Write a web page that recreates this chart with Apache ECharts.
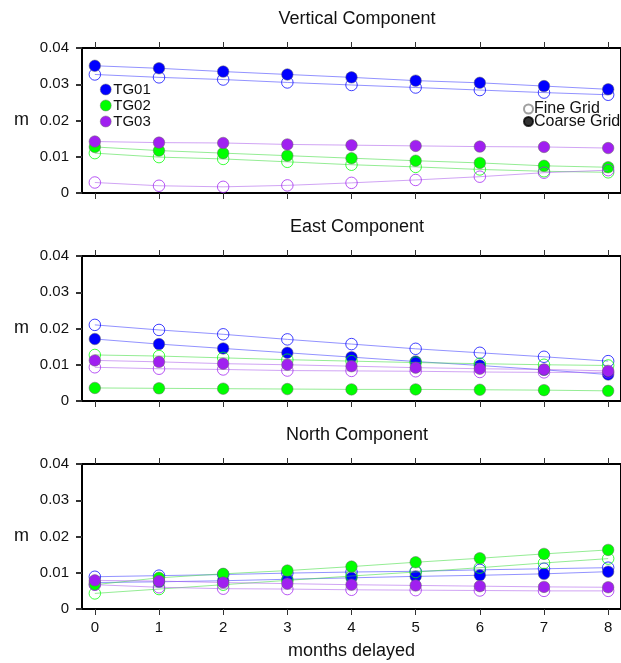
<!DOCTYPE html>
<html>
<head>
<meta charset="utf-8">
<script src="https://cdn.jsdelivr.net/npm/echarts@6/dist/echarts.min.js"></script>
<style>
  html, body { margin: 0; padding: 0; background: #fff; }
  #chart { width: 621px; height: 663px; }
</style>
</head>
<body>
<div id="chart"></div>
<script>
// Months of delay on the x axis
const months = [0, 1, 2, 3, 4, 5, 6, 7, 8];
const stations = ['TG01', 'TG02', 'TG03'];
const panelTitles = ['Vertical Component', 'East Component', 'North Component'];

// Vertical component (m)
const vertTG01Coarse = [0.0351, 0.0344, 0.0335, 0.0327, 0.0319, 0.0310, 0.0304, 0.0295, 0.0286];
const vertTG01Fine   = [0.0327, 0.0319, 0.0313, 0.0305, 0.0298, 0.0291, 0.0284, 0.0277, 0.0271];
const vertTG02Coarse = [0.0127, 0.0117, 0.0110, 0.0103, 0.0096, 0.0089, 0.0083, 0.0075, 0.0071];
const vertTG02Fine   = [0.0110, 0.0099, 0.0094, 0.0086, 0.0078, 0.0072, 0.0065, 0.0060, 0.0057];
const vertTG03Coarse = [0.0142, 0.0139, 0.0138, 0.0134, 0.0132, 0.0130, 0.0128, 0.0127, 0.0124];
const vertTG03Fine   = [0.0029, 0.0020, 0.0017, 0.0021, 0.0028, 0.0036, 0.0045, 0.0056, 0.0063];

// East component (m)
const eastTG01Coarse = [0.0171, 0.0157, 0.0145, 0.0133, 0.0121, 0.0109, 0.0098, 0.0086, 0.0073];
const eastTG01Fine   = [0.0210, 0.0196, 0.0184, 0.0170, 0.0157, 0.0144, 0.0133, 0.0122, 0.0110];
const eastTG02Coarse = [0.0036, 0.0035, 0.0034, 0.0033, 0.0032, 0.0032, 0.0031, 0.0030, 0.0028];
const eastTG02Fine   = [0.0127, 0.0124, 0.0119, 0.0114, 0.0110, 0.0106, 0.0103, 0.0100, 0.0098];
const eastTG03Coarse = [0.0112, 0.0108, 0.0103, 0.0100, 0.0096, 0.0092, 0.0089, 0.0087, 0.0083];
const eastTG03Fine   = [0.0093, 0.0089, 0.0087, 0.0084, 0.0083, 0.0082, 0.0080, 0.0079, 0.0079];

// North component (m)
const northTG01Coarse = [0.0073, 0.0075, 0.0078, 0.0082, 0.0086, 0.0090, 0.0093, 0.0097, 0.0103];
const northTG01Fine   = [0.0089, 0.0092, 0.0095, 0.0099, 0.0102, 0.0104, 0.0108, 0.0111, 0.0114];
const northTG02Coarse = [0.0067, 0.0086, 0.0097, 0.0106, 0.0117, 0.0129, 0.0140, 0.0152, 0.0163];
const northTG02Fine   = [0.0043, 0.0055, 0.0067, 0.0079, 0.0091, 0.0102, 0.0114, 0.0127, 0.0139];
const northTG03Coarse = [0.0079, 0.0077, 0.0073, 0.0070, 0.0067, 0.0065, 0.0063, 0.0061, 0.0060];
const northTG03Fine   = [0.0067, 0.0060, 0.0056, 0.0055, 0.0053, 0.0052, 0.0051, 0.0050, 0.0050];

const panels = [
  { fine: [vertTG01Fine, vertTG02Fine, vertTG03Fine],    coarse: [vertTG01Coarse, vertTG02Coarse, vertTG03Coarse] },
  { fine: [eastTG01Fine, eastTG02Fine, eastTG03Fine],    coarse: [eastTG01Coarse, eastTG02Coarse, eastTG03Coarse] },
  { fine: [northTG01Fine, northTG02Fine, northTG03Fine], coarse: [northTG01Coarse, northTG02Coarse, northTG03Coarse] }
];

const colors = ['#0000ff', '#00ff00', '#a020f0'];
const lineColors = ['rgba(100,100,255,0.7)', 'rgba(60,220,60,0.55)', 'rgba(170,90,235,0.55)'];
const FONT = 'Liberation Sans, Arial, Helvetica, sans-serif';

const gridTops = [48, 256, 464];
const gridHeight = 145;

const grids = [], xAxes = [], yAxes = [], series = [], titles = [];

gridTops.forEach((top, p) => {
  grids.push({
    left: 82, right: -2.5, top: top, height: gridHeight,
    show: true, borderColor: '#000', borderWidth: 2
  });
  titles.push({
    text: panelTitles[p], left: 352, top: top - 43, textAlign: 'center',
    textStyle: { fontFamily: FONT, fontSize: 18, fontWeight: 'normal', color: '#111' }
  });
  const isLast = p === gridTops.length - 1;
  // bottom x axis
  xAxes.push({
    type: 'value', gridIndex: p, position: 'bottom', min: -0.2, max: 8.2,
    axisLine: { show: false, onZero: false }, splitLine: { show: false },
    axisTick: { show: true, inside: false, length: 6, customValues: months, lineStyle: { color: '#333', width: 1 } },
    axisLabel: {
      show: isLast, customValues: months, margin: 11,
      fontFamily: FONT, fontSize: 15, color: '#111'
    },
    name: isLast ? 'months delayed' : '', nameLocation: 'middle', nameGap: 33,
    nameTextStyle: { fontFamily: FONT, fontSize: 18, color: '#111' }
  });
  // top x axis (ticks only)
  xAxes.push({
    type: 'value', gridIndex: p, position: 'top', min: -0.2, max: 8.2,
    axisLine: { show: false, onZero: false }, splitLine: { show: false },
    axisTick: { show: true, inside: false, length: 6, customValues: months, lineStyle: { color: '#333', width: 1 } },
    axisLabel: { show: false }
  });
  yAxes.push({
    type: 'value', gridIndex: p, min: 0, max: 0.04, interval: 0.01,
    axisLine: { show: false, onZero: false }, splitLine: { show: false },
    axisTick: { show: true, length: 6, lineStyle: { color: '#333', width: 2 } },
    axisLabel: {
      margin: 13, fontFamily: FONT, fontSize: 15, color: '#111',
      formatter: v => (v === 0 ? '0' : v.toFixed(2))
    },
    name: 'm', nameLocation: 'middle', nameGap: 53, nameRotate: 0,
    nameTextStyle: { fontFamily: FONT, fontSize: 18, color: '#111' }
  });

  stations.forEach((st, s) => {
    const fineData = months.map((m, i) => [m, panels[p].fine[s][i]]);
    const coarseData = months.map((m, i) => [m, panels[p].coarse[s][i]]);
    series.push({
      name: st + ' fine', type: 'line', xAxisIndex: p * 2, yAxisIndex: p,
      data: fineData, symbol: 'circle', symbolSize: 11.5, showSymbol: true,
      lineStyle: { color: lineColors[s], width: 1 },
      itemStyle: { color: 'rgba(255,255,255,0)', borderColor: colors[s], borderWidth: 1, opacity: 0.75 },
      emphasis: { disabled: true }, z: 2 + s * 2
    });
    series.push({
      name: st, type: 'line', xAxisIndex: p * 2, yAxisIndex: p,
      data: coarseData, symbol: 'circle', symbolSize: 11.5, showSymbol: true,
      lineStyle: { color: lineColors[s], width: 1 },
      itemStyle: { color: colors[s], borderColor: '#666', borderWidth: 0.5 },
      emphasis: { disabled: true }, z: 3 + s * 2
    });
  });
});

// legend-only series for the grid-resolution key
series.push({
  name: 'Fine Grid', type: 'scatter', xAxisIndex: 0, yAxisIndex: 0, data: [],
  itemStyle: { color: '#fff', borderColor: '#888', borderWidth: 0.8 }
});
series.push({
  name: 'Coarse Grid', type: 'scatter', xAxisIndex: 0, yAxisIndex: 0, data: [],
  itemStyle: { color: '#000', borderColor: '#000', borderWidth: 0.5 }
});

const option = {
  backgroundColor: '#fff',
  animation: false,
  title: titles,
  grid: grids,
  xAxis: xAxes,
  yAxis: yAxes,
  legend: [
    {
      data: stations, orient: 'vertical', left: 100, top: 82, padding: 0,
      itemGap: 1, itemWidth: 11, itemHeight: 11, icon: 'circle',
      selectedMode: false,
      itemStyle: { borderColor: '#777', borderWidth: 0.5 },
      textStyle: { fontFamily: FONT, fontSize: 15, color: '#111', padding: [0, 0, 0, -3] }
    },
    {
      data: ['Fine Grid', 'Coarse Grid'], orient: 'vertical', left: 523, top: 101, padding: 0,
      itemGap: -3.5, itemWidth: 9, itemHeight: 9, icon: 'circle',
      selectedMode: false,
      textStyle: { fontFamily: FONT, fontSize: 16, color: '#111', padding: [0, 0, 0, -4] }
    }
  ],
  series: series
};

const chart = echarts.init(document.getElementById('chart'), null, { renderer: 'canvas' });
chart.setOption(option);
</script>
</body>
</html>
